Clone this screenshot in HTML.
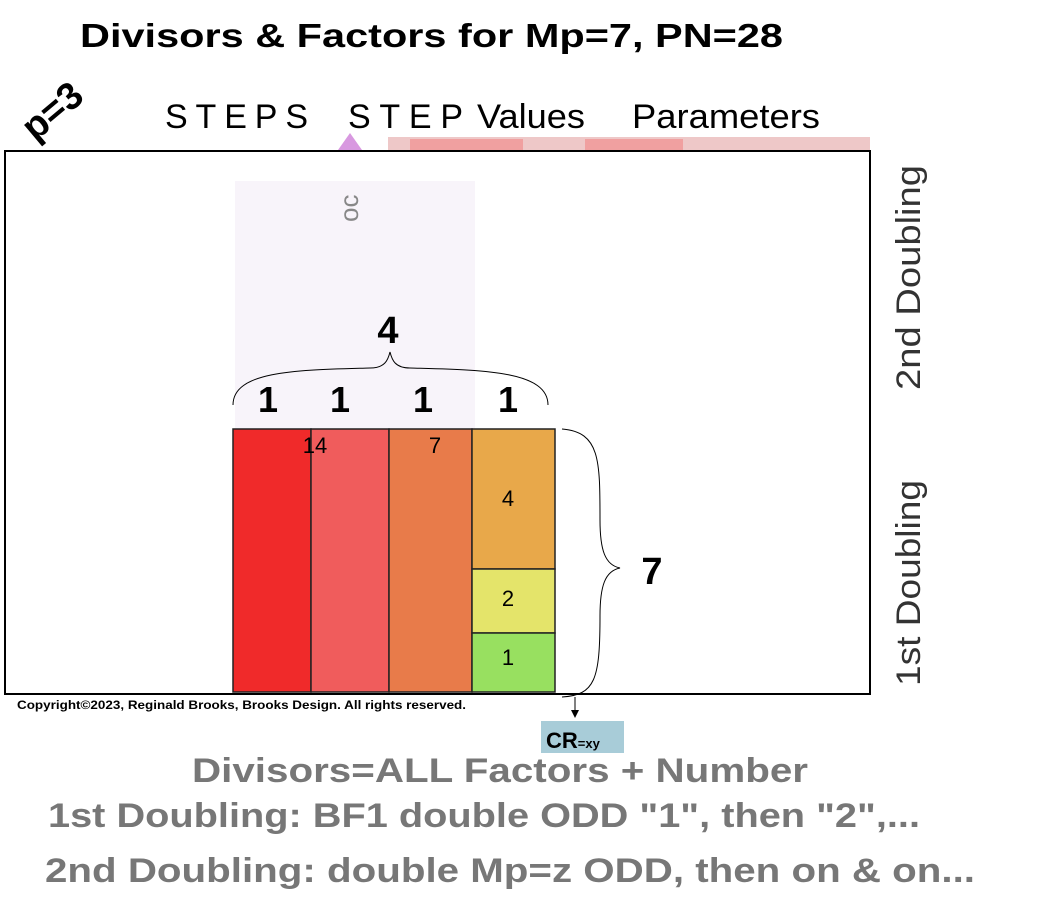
<!DOCTYPE html>
<html><head><meta charset="utf-8"><style>body{margin:0;background:#fff}svg{display:block}</style></head><body>
<svg width="1050" height="898" xmlns="http://www.w3.org/2000/svg" font-family="Liberation Sans, sans-serif">
<text x="80" y="47" font-size="33" font-weight="bold" textLength="703" lengthAdjust="spacingAndGlyphs">Divisors &amp; Factors for Mp=7, PN=28</text>
<text x="0" y="0" font-size="38" font-weight="bold" transform="translate(35,142) rotate(-40)">p=3</text>
<text x="165" y="128" font-size="34" font-weight="300" textLength="143" lengthAdjust="spacing">STEPS</text>
<text x="348" y="128" font-size="34" font-weight="300" textLength="115" lengthAdjust="spacing">STEP</text>
<text x="477" y="128" font-size="34" font-weight="300" textLength="108" lengthAdjust="spacingAndGlyphs">Values</text>
<text x="632" y="128" font-size="34" font-weight="300" textLength="188" lengthAdjust="spacingAndGlyphs">Parameters</text>
<rect x="388" y="137" width="482" height="14" fill="#eec8c8"/>
<rect x="410" y="139" width="113" height="12" fill="#f0a0a0"/>
<rect x="585" y="139" width="98" height="12" fill="#f0a0a0"/>
<polygon points="338,150 350,133 362,150" fill="#d898e0"/>
<rect x="5" y="151" width="865" height="543" fill="#fff" stroke="#000" stroke-width="2"/>
<rect x="235" y="181" width="240" height="248" fill="#f8f4fa"/>
<text x="0" y="0" font-size="26" fill="#888" transform="translate(358,222) rotate(-90)">oc</text>
<text x="388" y="343" font-size="38" font-weight="bold" text-anchor="middle">4</text>
<path d="M233,405 C233,370 300,370 370,368 C385,368 388,360 390,352 C392,360 395,368 410,368 C480,370 548,370 548,405" fill="none" stroke="#000" stroke-width="1"/>
<g font-size="36" font-weight="bold" text-anchor="middle"><text x="268" y="412">1</text><text x="340" y="412">1</text><text x="423" y="412">1</text><text x="508" y="412">1</text></g>
<g stroke="#222" stroke-width="1.5">
<rect x="233" y="429" width="78" height="263" fill="#f02a2a"/>
<rect x="311" y="429" width="78" height="263" fill="#f05c5c"/>
<rect x="389" y="429" width="83" height="263" fill="#e87b4a"/>
<rect x="472" y="429" width="83" height="140" fill="#e8a84a"/>
<rect x="472" y="569" width="83" height="64" fill="#e4e46a"/>
<rect x="472" y="633" width="83" height="59" fill="#98e060"/>
</g>
<g font-size="22" text-anchor="middle"><text x="315" y="453">14</text><text x="435" y="453">7</text><text x="508" y="506">4</text><text x="508" y="606">2</text><text x="508" y="665">1</text></g>
<path d="M562,429 C600,432 600,460 600,520 C600,550 605,565 620,568 C605,571 600,586 600,616 C600,680 595,695 562,697" fill="none" stroke="#000"/>
<text x="652" y="584" font-size="38" font-weight="bold" text-anchor="middle">7</text>
<text x="0" y="0" font-size="34" font-weight="300" fill="#333" transform="translate(920,390) rotate(-90)" textLength="225" lengthAdjust="spacingAndGlyphs">2nd Doubling</text>
<text x="0" y="0" font-size="34" font-weight="300" fill="#333" transform="translate(920,686) rotate(-90)" textLength="206" lengthAdjust="spacingAndGlyphs">1st Doubling</text>
<text x="17" y="709" font-size="12" font-weight="bold" textLength="449" lengthAdjust="spacingAndGlyphs">Copyright©2023, Reginald Brooks, Brooks Design. All rights reserved.</text>
<line x1="575" y1="697" x2="575" y2="712" stroke="#000"/>
<polygon points="571,710 579,710 575,718" fill="#000"/>
<rect x="541" y="721" width="83" height="32" fill="#a8ccd8"/>
<text x="546" y="748" font-size="22" font-weight="bold">CR<tspan font-size="13">=xy</tspan></text>
<g fill="#777" font-weight="bold" font-size="34">
<text x="192" y="782" textLength="616" lengthAdjust="spacingAndGlyphs">Divisors=ALL Factors + Number</text>
<text x="48" y="827" textLength="872" lengthAdjust="spacingAndGlyphs">1st Doubling: BF1 double ODD "1", then "2",...</text>
<text x="45" y="882" textLength="930" lengthAdjust="spacingAndGlyphs">2nd Doubling: double Mp=z ODD, then on &amp; on...</text>
</g>
</svg>
</body></html>
